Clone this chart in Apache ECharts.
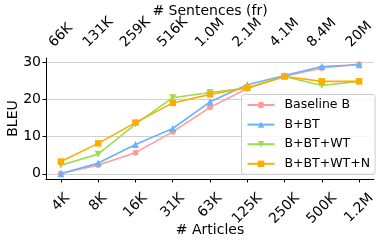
<!DOCTYPE html>
<html><head><meta charset="utf-8">
<script src="https://cdn.jsdelivr.net/npm/echarts@6/dist/echarts.min.js"></script>
<style>html,body{margin:0;padding:0;background:#fff}#c{width:382px;height:243px}</style>
</head><body><div id="c"></div>
<script>
var articles = ['4K','8K','16K','31K','63K','125K','250K','500K','1.2M'];
var sentences = ['66K','131K','259K','516K','1.0M','2.1M','4.1M','8.4M','20M'];
var yTicks = [0, 10, 20, 30];
var seriesNames = ['Baseline B','B+BT','B+BT+WT','B+BT+WT+N'];
var baseline = [0.1, 2.4, 5.7, 11.3, 17.9, 23.0, 26.3, 28.5, 29.5];
var bBT = [0.0, 2.9, 7.9, 12.2, 19.4, 24.0, 26.5, 28.9, 29.4];
var bBTWT = [2.3, 5.3, 13.4, 20.5, 21.9, 23.1, 26.2, 23.8, 24.9];
var bBTWTN = [3.3, 8.2, 13.8, 19.1, 21.4, 23.2, 26.2, 24.9, 24.9];

var FONT = 'DejaVu Sans';
var colors = ['#ff9b9b', '#66b3ff', '#9ade4a', '#ffac00'];
var symbols = ['circle', 'triangle', 'path://M0,0 L10,0 L5,9 Z', 'rect'];
var symSizes = [6, 7, 7, 6.5];

var cv = document.createElement('canvas').getContext('2d');
cv.font = '14px "' + FONT + '"';
function tw(s){ return cv.measureText(s).width; }

var idx = articles.map(function(_, i){ return i; });
var richB = {}, richT = {};
articles.forEach(function(s, i){
  var w = tw(s);
  richB['b' + i] = {padding: [0.5*w, 0.5*w, 0, 0], fontSize: 14, fontFamily: FONT, color: '#000'};
});
sentences.forEach(function(s, i){
  var w = tw(s);
  richT['t' + i] = {padding: [0, 0, 0.5*w, 0.5*w], fontSize: 14, fontFamily: FONT, color: '#000'};
});

function pairs(arr){ return arr.map(function(v, i){ return [i, v]; }); }
var allData = [baseline, bBT, bBTWT, bBTWTN];

var chart = echarts.init(document.getElementById('c'), null, {renderer: 'canvas'});
chart.setOption({
  animation: false,
  textStyle: {fontFamily: FONT},
  grid: {left: 46, right: 8, top: 58, bottom: 64, containLabel: false, outerBoundsMode: 'none'},
  legend: {
    orient: 'vertical', left: 241.5, top: 94.5,
    data: seriesNames,
    itemWidth: 27, itemHeight: 8, itemGap: 6.6,
    padding: [4, 5, 4, 5],
    backgroundColor: 'rgba(255,255,255,0.85)',
    borderColor: '#cccccc', borderWidth: 1, borderRadius: 3,
    textStyle: {fontFamily: FONT, fontSize: 12.5, color: '#000', padding: [0, 0, 0, 5]}
  },
  xAxis: [{
    type: 'value', position: 'bottom', min: -0.4, max: 8.4,
    name: '# Articles', nameLocation: 'middle', nameGap: 44, nameMoveOverlap: false,
    nameTextStyle: {fontFamily: FONT, fontSize: 14, color: '#000'},
    axisLine: {show: true, onZero: false, lineStyle: {color: '#000', width: 1}},
    axisTick: {show: true, length: 3.5, customValues: idx, lineStyle: {color: '#000'}},
    splitLine: {show: false},
    axisLabel: {
      customValues: idx, rotate: 45, margin: 17, align: 'center', verticalAlign: 'middle',
      formatter: function(v){ var i = Math.round(v); return '{b' + i + '|' + articles[i] + '}'; },
      rich: richB
    }
  }, {
    type: 'value', position: 'top', min: -0.4, max: 8.4,
    name: '# Sentences (fr)', nameLocation: 'middle', nameGap: 40, nameMoveOverlap: false,
    nameTextStyle: {fontFamily: FONT, fontSize: 14, color: '#000'},
    axisLine: {show: false},
    axisTick: {show: false, customValues: idx},
    splitLine: {show: false},
    axisLabel: {
      customValues: idx, rotate: 45, margin: 13, align: 'center', verticalAlign: 'middle',
      formatter: function(v){ var i = Math.round(v); return '{t' + i + '|' + sentences[i] + '}'; },
      rich: richT
    }
  }],
  yAxis: {
    type: 'value', min: -1.4, max: 31.2,
    name: 'BLEU', nameLocation: 'middle', nameGap: 26, nameMoveOverlap: false,
    nameTextStyle: {fontFamily: FONT, fontSize: 14, color: '#000'},
    axisLine: {show: true, onZero: false, lineStyle: {color: '#000', width: 1}},
    axisTick: {show: true, length: 3.5, customValues: yTicks, lineStyle: {color: '#000'}},
    axisLabel: {customValues: yTicks, fontFamily: FONT, fontSize: 14, color: '#000', margin: 5},
    splitLine: {show: true, customValues: yTicks, lineStyle: {color: '#d0d0d0', width: 1}}
  },
  series: allData.map(function(arr, k){
    return {
      type: 'line', name: seriesNames[k], data: pairs(arr),
      xAxisIndex: 0, yAxisIndex: 0,
      symbol: symbols[k], symbolSize: symSizes[k], showSymbol: true,
      lineStyle: {color: colors[k], width: 1.6},
      itemStyle: {color: colors[k], borderWidth: 0},
      z: 2 + k
    };
  })
});
</script></body></html>
